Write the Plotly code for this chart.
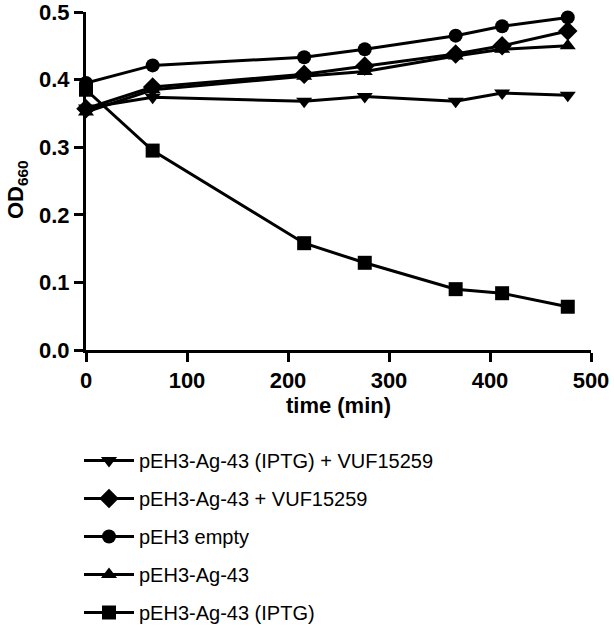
import plotly.graph_objects as go

time_min = [0, 66, 216, 276, 366, 412, 477]

names = [
    "pEH3-Ag-43 (IPTG) + VUF15259",
    "pEH3-Ag-43 + VUF15259",
    "pEH3 empty",
    "pEH3-Ag-43",
    "pEH3-Ag-43 (IPTG)",
]
iptg_vuf = [0.358, 0.374, 0.368, 0.375, 0.368, 0.380, 0.377]
ag43_vuf = [0.357, 0.389, 0.408, 0.420, 0.438, 0.450, 0.472]
empty = [0.395, 0.421, 0.433, 0.445, 0.465, 0.479, 0.492]
ag43 = [0.352, 0.385, 0.405, 0.412, 0.435, 0.445, 0.450]
ag43_iptg = [0.385, 0.295, 0.158, 0.129, 0.090, 0.084, 0.064]

series = [iptg_vuf, ag43_vuf, empty, ag43, ag43_iptg]
symbols = ["triangle-down", "diamond", "circle", "triangle-up", "square"]
sizes = [14, 15, 14, 14, 14]

fig = go.Figure()
for i, (nm, ys, sym, sz) in enumerate(zip(names, series, symbols, sizes)):
    fig.add_trace(go.Scatter(
        x=time_min, y=ys, name=nm, mode="lines+markers",
        line=dict(color="black", width=3),
        marker=dict(symbol=sym, size=sz, color="black"),
        cliponaxis=False, legendgroup=f"g{i}",
    ))

axis_font = dict(family="Arial, Liberation Sans", size=22, color="black", weight="bold")

W, H = 614, 630
L, R, T, B = 86, 23, 12, 280
plot_h = H - T - B

fig.update_layout(
    width=W, height=H,
    margin=dict(l=L, r=R, t=T, b=B, autoexpand=False),
    plot_bgcolor="white", paper_bgcolor="white",
    font=dict(family="Arial, Liberation Sans", color="black"),
    showlegend=True,
    legend=dict(
        xref="container", yref="container", x=79 / W, y=1 - 441 / H,
        xanchor="left", yanchor="top",
        font=dict(family="Arial, Liberation Sans", size=20, color="black"),
        itemwidth=50, tracegroupgap=9,
        bgcolor="rgba(0,0,0,0)",
    ),
    xaxis=dict(
        range=[0, 500], tickvals=[0, 100, 200, 300, 400, 500],
        showgrid=False, zeroline=False, showline=True, linecolor="black", linewidth=3,
        ticks="outside", ticklen=9, tickwidth=3, tickcolor="black",
        tickfont=axis_font, ticklabeloverflow="allow",
        title=dict(text="time (min)", font=axis_font, standoff=0),
    ),
    yaxis=dict(
        range=[0, 0.5], tickvals=[0, 0.1, 0.2, 0.3, 0.4, 0.5], tickformat=".1f",
        showgrid=False, zeroline=False, showline=True, linecolor="black", linewidth=3,
        ticks="outside", ticklen=9, tickwidth=3, tickcolor="black",
        tickfont=axis_font, ticklabeloverflow="allow",
    ),
    annotations=[dict(
        text="OD<sub>660</sub>", textangle=-90, showarrow=False,
        xref="paper", yref="paper",
        x=(17 - L) / (W - L - R), y=(H - B - 190) / plot_h,
        xanchor="center", yanchor="middle",
        font=axis_font,
    )],
)

fig.write_html("out.html", config={"displayModeBar": False},
               post_script="document.body.style.margin='0';")
